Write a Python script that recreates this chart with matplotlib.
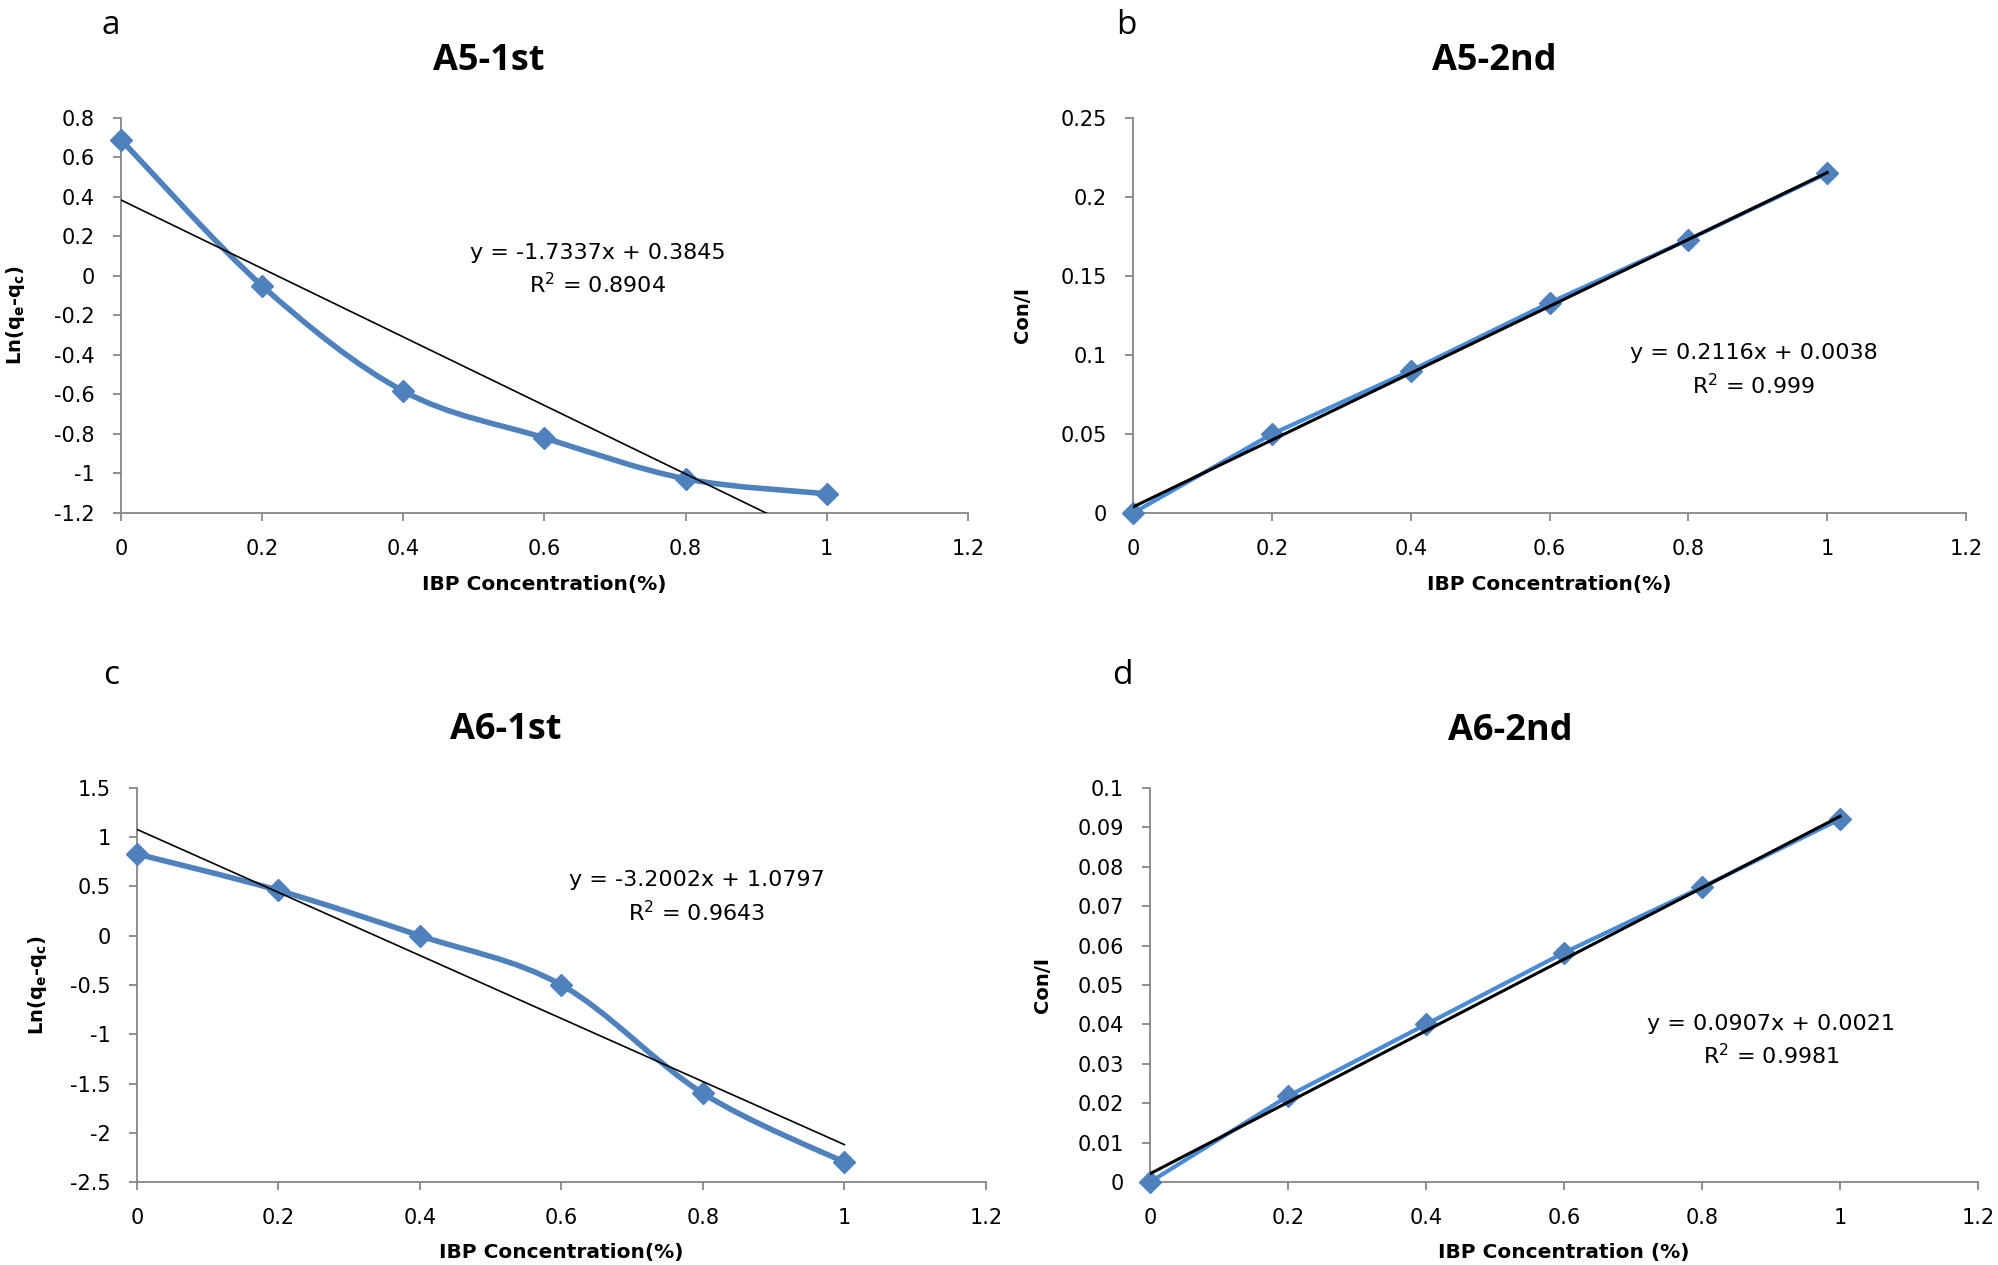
import matplotlib
matplotlib.use('Agg')
import matplotlib.pyplot as plt
from matplotlib.path import Path
from matplotlib.patches import PathPatch

plt.rcParams['font.family'] = ['DejaVu Sans']
plt.rcParams['mathtext.fontset'] = 'dejavusans'

conc = [0, 0.2, 0.4, 0.6, 0.8, 1.0]

a5_first = [0.69, -0.05, -0.583, -0.82, -1.027, -1.103]
a5_second = [0, 0.0499, 0.090, 0.133, 0.173, 0.215]
a6_first = [0.83, 0.46, 0.0, -0.50, -1.60, -2.30]
a6_second = [0, 0.0218, 0.040, 0.0582, 0.0748, 0.0921]

# trend line coefficients (slope, intercept) and R2 as printed
fit_a5_first = (-1.7337, 0.3845, 0.8904)
fit_a5_second = (0.2116, 0.0038, 0.999)
fit_a6_first = (-3.2002, 1.0797, 0.9643)
fit_a6_second = (0.0907, 0.0021, 0.9981)

x_ticks = [0, 0.2, 0.4, 0.6, 0.8, 1.0, 1.2]
x_labels = ['0', '0.2', '0.4', '0.6', '0.8', '1', '1.2']
yt_a5_first = [0.8, 0.6, 0.4, 0.2, 0, -0.2, -0.4, -0.6, -0.8, -1, -1.2]
yt_a5_second = [0, 0.05, 0.1, 0.15, 0.2, 0.25]
yt_a6_first = [1.5, 1, 0.5, 0, -0.5, -1, -1.5, -2, -2.5]
yt_a6_second = [0, 0.01, 0.02, 0.03, 0.04, 0.05, 0.06, 0.07, 0.08, 0.09, 0.1]

blue = '#4F81BD'
axis_grey = '#868686'


def smooth_path(xs, ys):
    # excel style smoothed line: cubic bezier segments through the points
    verts = [(xs[0], ys[0])]
    codes = [Path.MOVETO]
    n = len(xs)
    for i in range(n - 1):
        i0 = max(i - 1, 0)
        i3 = min(i + 2, n - 1)
        c1 = (xs[i] + (xs[i + 1] - xs[i0]) / 6, ys[i] + (ys[i + 1] - ys[i0]) / 6)
        c2 = (xs[i + 1] - (xs[i3] - xs[i]) / 6, ys[i + 1] - (ys[i3] - ys[i]) / 6)
        verts += [c1, c2, (xs[i + 1], ys[i + 1])]
        codes += [Path.CURVE4] * 3
    return Path(verts, codes)


def panel(ax, ys, fit, yticks, ylabel, xlabel, smooth, lw, tlw, eq_pos, ylab_x):
    ylo, yhi = min(yticks), max(yticks)
    if smooth:
        ax.add_patch(PathPatch(smooth_path(conc, ys), fill=False, edgecolor=blue,
                               lw=lw, capstyle='round', joinstyle='round', zorder=2))
    else:
        ax.plot(conc, ys, color='#4A8BD6', lw=lw, zorder=2, solid_capstyle='round')
    ax.plot(conc, ys, linestyle='none', marker='D', markersize=11,
            color=blue, zorder=3, clip_on=False)
    k, b, r2 = fit
    ax.plot([0, 1], [b, k + b], color='black', lw=tlw, zorder=4)
    ax.set_xlim(0, 1.2)
    ax.set_ylim(ylo, yhi)
    ax.set_xticks(x_ticks)
    ax.set_xticklabels(x_labels)
    ax.set_yticks(yticks)
    ax.set_yticklabels(['%g' % v for v in yticks])
    for s in ['top', 'right']:
        ax.spines[s].set_visible(False)
    for s in ['left', 'bottom']:
        ax.spines[s].set_color(axis_grey)
        ax.spines[s].set_linewidth(1.3)
    ax.tick_params(axis='both', direction='out', length=6, width=1.3,
                   color=axis_grey, labelsize=15)
    ax.tick_params(axis='y', pad=13)
    ax.tick_params(axis='x', pad=13)
    ax.set_ylabel(ylabel, fontsize=14, fontweight='bold', va='center')
    ax.yaxis.set_label_coords(ylab_x, 0.5)
    ax.set_xlabel(xlabel, fontsize=14.5, fontweight='bold', va='center')
    ax.xaxis.set_label_coords(0.5, -0.18)
    sign = '+' if b >= 0 else '-'
    eq = 'y = %gx %s %g\nR$^2$ = %g' % (k, sign, abs(b), r2)
    ax.text(eq_pos[0], eq_pos[1], eq, transform=ax.transAxes, ha='center',
            va='center', fontsize=16, linespacing=1.45, multialignment='center')


fig = plt.figure(figsize=(19.99, 12.65), dpi=100)
ax_a = fig.add_axes([0.0605, 0.5945, 0.4237, 0.3123])
ax_b = fig.add_axes([0.5668, 0.5945, 0.4167, 0.3123])
ax_c = fig.add_axes([0.0685, 0.0656, 0.4247, 0.3115])
ax_d = fig.add_axes([0.5753, 0.0656, 0.4142, 0.3115])

ln_label = r'Ln(q$_\mathbf{e}$-q$_\mathbf{c}$)'
panel(ax_a, a5_first, fit_a5_first, yt_a5_first, ln_label,
      'IBP Concentration(%)', True, 4, 1.2, (0.563, 0.615), -0.125)
panel(ax_b, a5_second, fit_a5_second, yt_a5_second, 'Con/I',
      'IBP Concentration(%)', False, 3, 2.2, (0.745, 0.36), -0.133)
panel(ax_c, a6_first, fit_a6_first, yt_a6_first, ln_label,
      'IBP Concentration(%)', True, 4, 1.2, (0.659, 0.722), -0.117)
panel(ax_d, a6_second, fit_a6_second, yt_a6_second, 'Con/I',
      'IBP Concentration (%)', False, 3, 2.2, (0.75, 0.358), -0.13)

titles = [('A5-1st', 0.2446, 0.952), ('A5-2nd', 0.7474, 0.952),
          ('A6-1st', 0.253, 0.423), ('A6-2nd', 0.7554, 0.422)]
for t, x, y in titles:
    fig.text(x, y, t, ha='center', va='center', fontsize=26,
             fontweight='bold', family='Open Sans')

letters = [('a', 0.0555, 0.980), ('b', 0.5635, 0.980),
           ('c', 0.0555, 0.466), ('d', 0.5615, 0.466)]
for t, x, y in letters:
    fig.text(x, y, t, ha='center', va='center', fontsize=24, family='Open Sans')

plt.savefig('out.png', dpi=100)
print('done')
